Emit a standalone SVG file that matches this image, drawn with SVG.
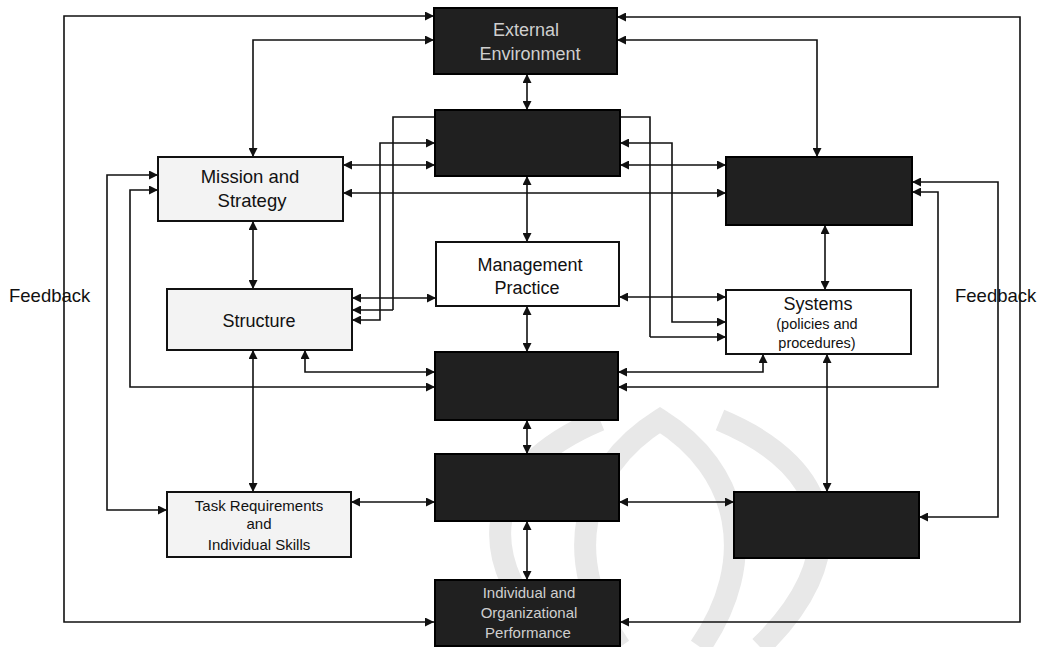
<svg xmlns="http://www.w3.org/2000/svg" width="1039" height="647" viewBox="0 0 1039 647">
<defs>
<marker id="ah" viewBox="0 0 10 10" refX="10" refY="5" markerWidth="9" markerHeight="9" markerUnits="userSpaceOnUse" orient="auto-start-reverse">
<path d="M0,0 L10,5 L0,10 z" fill="#111"/>
</marker>
<style>
.bk{fill:#202020;stroke:#000;stroke-width:2}
.lt{fill:#f3f3f3;stroke:#111;stroke-width:2}
.wt{fill:#fff;stroke:#111;stroke-width:2}
.c{fill:none;stroke:#111;stroke-width:1.6;marker-start:url(#ah);marker-end:url(#ah)}
.n{fill:none;stroke:#111;stroke-width:1.6}
.t{font-family:"Liberation Sans",Arial,sans-serif;fill:#111;text-anchor:middle}
.tw{font-family:"Liberation Sans",Arial,sans-serif;fill:#cfcfcf;text-anchor:middle}
.fb{font-family:"Liberation Sans",Arial,sans-serif;fill:#111;font-size:18.5px}
.wm{fill:none;stroke:#e8e8e8;stroke-width:22}
</style>
</defs>
<rect width="1039" height="647" fill="#fff"/>
<g id="watermark">
<path class="wm" d="M560,647 C470,560 480,470 600,420"/>
<path class="wm" d="M760,647 C850,560 840,470 720,420"/>
<path class="wm" d="M620,647 C560,560 580,470 660,420 C740,470 760,560 700,647"/>
</g>
<g id="connectors">
<polyline class="c" points="434,16 64,16 64,622 434,622"/>
<polyline class="c" points="617,17 1020,17 1020,622 620,622"/>
<line class="c" x1="527" y1="74" x2="527" y2="110"/>
<polyline class="c" points="434,40 253,40 253,157"/>
<polyline class="c" points="617,40 817,40 817,157"/>
<line class="c" x1="527" y1="176" x2="527" y2="242"/>
<line class="c" x1="527" y1="306" x2="527" y2="352"/>
<line class="c" x1="527" y1="420" x2="527" y2="454"/>
<line class="c" x1="527" y1="521" x2="527" y2="580"/>
<line class="c" x1="343" y1="165" x2="435" y2="165"/>
<line class="c" x1="620" y1="165" x2="726" y2="165"/>
<line class="c" x1="343" y1="193" x2="726" y2="193"/>
<line class="c" x1="352" y1="298" x2="436" y2="298"/>
<line class="c" x1="619" y1="297" x2="726" y2="297"/>
<line class="c" x1="351" y1="502" x2="435" y2="502"/>
<line class="c" x1="619" y1="502" x2="734" y2="502"/>
<line class="c" x1="253" y1="221" x2="253" y2="289"/>
<line class="c" x1="253" y1="350" x2="253" y2="492"/>
<polyline class="c" points="305,350 305,372 435,372"/>
<polyline class="c" points="158,190 130,190 130,387 435,387"/>
<polyline class="c" points="158,175 107,175 107,510 167,510"/>
<line class="c" x1="825" y1="225" x2="825" y2="290"/>
<line class="c" x1="827" y1="354" x2="827" y2="492"/>
<polyline class="c" points="763,354 763,372 618,372"/>
<polyline class="c" points="912,192 938,192 938,387 618,387"/>
<polyline class="c" points="912,182 998,182 998,517 919,517"/>
<polyline class="c" points="435,143 380,143 380,320 352,320"/>
<polyline class="n" points="435,117 393,117 393,310"/>
<line class="c" x1="393" y1="310" x2="352" y2="310" style="marker-start:none"/>
<polyline class="c" points="620,143 672,143 672,322 726,322"/>
<polyline class="n" points="620,117 650,117 650,337"/>
<line class="c" x1="650" y1="337" x2="726" y2="337" style="marker-start:none"/>
</g>
<g id="external-environment">
<rect class="bk" x="434" y="8" width="183" height="66"/>
<text class="tw" x="526" y="36" font-size="18">External</text>
<text class="tw" x="530" y="60" font-size="18">Environment</text>
</g>
<g id="leadership"><rect class="bk" x="435" y="110" width="185" height="66"/></g>
<g id="organizational-culture"><rect class="bk" x="726" y="157" width="186" height="68"/></g>
<g id="mission-strategy">
<rect class="lt" x="158" y="157" width="185" height="64"/>
<text class="t" x="250" y="183" font-size="18.5">Mission and</text>
<text class="t" x="252" y="207" font-size="18.5">Strategy</text>
</g>
<g id="management-practice">
<rect class="wt" x="436" y="242" width="183" height="64"/>
<text class="t" x="530" y="271" font-size="18">Management</text>
<text class="t" x="527" y="294" font-size="18">Practice</text>
</g>
<g id="structure">
<rect class="lt" x="167" y="289" width="185" height="61"/>
<text class="t" x="259" y="327" font-size="18">Structure</text>
</g>
<g id="systems">
<rect class="wt" x="726" y="290" width="185" height="64"/>
<text class="t" x="818" y="310" font-size="18">Systems</text>
<text class="t" x="817" y="329" font-size="14.5">(policies and</text>
<text class="t" x="817" y="348" font-size="14.5">procedures)</text>
</g>
<g id="work-unit-climate"><rect class="bk" x="435" y="352" width="183" height="68"/></g>
<g id="motivation"><rect class="bk" x="435" y="454" width="184" height="67"/></g>
<g id="task-requirements">
<rect class="lt" x="167" y="492" width="184" height="65"/>
<text class="t" x="259" y="511" font-size="15">Task Requirements</text>
<text class="t" x="259" y="529" font-size="15">and</text>
<text class="t" x="259" y="550" font-size="15">Individual Skills</text>
</g>
<g id="individual-needs"><rect class="bk" x="734" y="492" width="185" height="66"/></g>
<g id="performance">
<rect class="bk" x="435" y="580" width="185" height="66"/>
<text class="tw" x="529" y="598" font-size="15">Individual and</text>
<text class="tw" x="529" y="618" font-size="15">Organizational</text>
<text class="tw" x="528" y="638" font-size="15">Performance</text>
</g>
<g id="labels">
<text class="fb" x="9" y="302">Feedback</text>
<text class="fb" x="955" y="302">Feedback</text>
</g>
</svg>
